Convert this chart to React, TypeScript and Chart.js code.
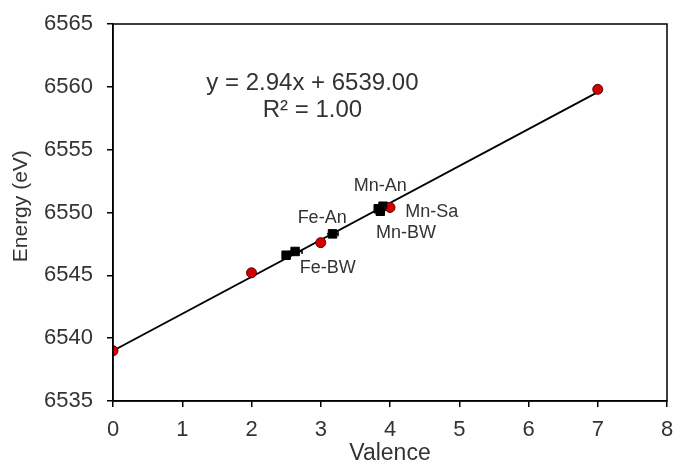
import React, { useEffect, useRef } from "react";
import { Chart, registerables } from "chart.js";
Chart.register(...registerables);

const refX = [0, 2, 3, 4, 7];
const refY = [6539.0, 6545.2, 6547.6, 6550.4, 6559.8];

const sampleX = [2.5, 2.63, 3.17, 3.83, 3.9, 3.86];
const sampleY = [6546.6, 6546.9, 6548.3, 6550.3, 6550.5, 6550.1];
const sampleErr = [0.06, 0.1, 0.08, 0.06, 0.05, 0.05];

const fitX = [0, 7];
const slope = 2.94;
const intercept = 6539.0;

const labelTexts = ["Mn-An", "Mn-Sa", "Mn-BW", "Fe-An", "Fe-BW"];
const labelX = [3.86, 4.22, 4.23, 3.02, 3.1];
const labelY = [6552.1, 6550.0, 6548.4, 6549.55, 6545.6];
const labelAlign = ["center", "left", "center", "center", "center"];

const eqTexts = ["y = 2.94x + 6539.00", "R² = 1.00"];
const eqX = [2.88, 2.88];
const eqY = [6560.3, 6558.15];

const yTitle = "Energy (eV)";
const yTitleCenter = 6550.5;

const FONT = "'Liberation Sans', Arial, sans-serif";

export default function App() {
  const ref = useRef<HTMLCanvasElement>(null);
  useEffect(() => {
    const annot = {
      id: "annot",
      afterDatasetsDraw(chart: any) {
        const { ctx, chartArea, scales } = chart;
        const xs = scales.x, ys = scales.y;
        ctx.save();
        ctx.strokeStyle = "#000";
        ctx.lineWidth = 1.5;
        sampleX.forEach((x, i) => {
          const y = ys.getPixelForValue(sampleY[i]);
          const x1 = xs.getPixelForValue(x - sampleErr[i]);
          const x2 = xs.getPixelForValue(x + sampleErr[i]);
          ctx.beginPath();
          ctx.moveTo(x1, y); ctx.lineTo(x2, y);
          ctx.moveTo(x2, y - 2.5); ctx.lineTo(x2, y + 2.5);
          ctx.stroke();
        });
        ctx.lineWidth = 1.5;
        ctx.strokeRect(chartArea.left, chartArea.top, chartArea.right - chartArea.left, chartArea.bottom - chartArea.top);
        ctx.fillStyle = "#333";
        ctx.textBaseline = "middle";
        ctx.font = `18px ${FONT}`;
        labelTexts.forEach((t, i) => {
          ctx.textAlign = labelAlign[i] as CanvasTextAlign;
          ctx.fillText(t, xs.getPixelForValue(labelX[i]), ys.getPixelForValue(labelY[i]));
        });
        ctx.font = `24px ${FONT}`;
        ctx.textAlign = "center";
        eqTexts.forEach((t, i) => {
          ctx.fillText(t, xs.getPixelForValue(eqX[i]), ys.getPixelForValue(eqY[i]));
        });
        // y-axis title
        ctx.font = `21px ${FONT}`;
        ctx.translate(21, ys.getPixelForValue(yTitleCenter));
        ctx.rotate(-Math.PI / 2);
        ctx.textAlign = "center";
        ctx.fillText(yTitle, 0, 0);
        ctx.restore();
      },
    };
    const chart = new Chart(ref.current!, {
      type: "scatter",
      data: {
        datasets: [
          {
            type: "line",
            label: "fit",
            data: fitX.map((x) => ({ x, y: intercept + slope * x })),
            borderColor: "#000",
            borderWidth: 1.8,
            pointRadius: 0,
            order: 3,
          } as any,
          {
            label: "samples",
            data: sampleX.map((x, i) => ({ x, y: sampleY[i] })),
            pointStyle: "rect",
            pointRadius: 6,
            backgroundColor: "#000",
            borderColor: "#000",
            order: 2,
          },
          {
            label: "references",
            data: refX.map((x, i) => ({ x, y: refY[i] })),
            pointStyle: "circle",
            pointRadius: 5,
            backgroundColor: "#d40000",
            borderColor: "#5a0000",
            borderWidth: 1,
            order: 1,
          },
        ],
      },
      options: {
        animation: false,
        responsive: false,
        layout: { padding: { top: 24, right: 8, left: 0, bottom: 0 } },
        plugins: { legend: { display: false }, tooltip: { enabled: false } },
        scales: {
          x: {
            type: "linear",
            min: 0,
            max: 8,
            ticks: { stepSize: 1, color: "#333", font: { family: FONT, size: 22 }, padding: 10, callback: (v: any) => String(v) },
            grid: { drawOnChartArea: false, drawTicks: true, tickLength: 6, color: "#000", lineWidth: 1.5 },
            border: { display: true, color: "#000", width: 1.5 },
            title: { display: true, text: "Valence", color: "#333", font: { family: FONT, size: 23 }, padding: { top: 9 } },
            afterFit: (s: any) => { s.height = 70; s.paddingRight = 0; s.paddingLeft = 0; },
          },
          y: {
            type: "linear",
            min: 6535,
            max: 6565,
            ticks: { stepSize: 5, color: "#333", font: { family: FONT, size: 22 }, padding: 14, callback: (v: any) => String(v) },
            grid: { drawOnChartArea: false, drawTicks: true, tickLength: 6, color: "#000", lineWidth: 1.5 },
            border: { display: true, color: "#000", width: 1.5 },
            title: { display: false },
            afterFit: (s: any) => { s.width = 113; s.paddingTop = 0; s.paddingBottom = 0; },
          },
        },
      },
      plugins: [annot],
    });
    return () => chart.destroy();
  }, []);
  return (
    <div style={{ position: "absolute", left: 0, top: 0, width: 675, height: 471, background: "#fff" }}>
      <canvas ref={ref} width={675} height={471} />
    </div>
  );
}
